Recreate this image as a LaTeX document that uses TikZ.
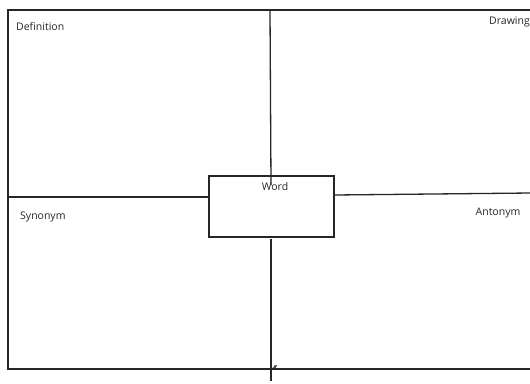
\documentclass[tikz,border=0pt]{standalone}
\usepackage{fontspec}
\setmainfont{Open Sans}
\usetikzlibrary{arrows.meta}
\begin{document}
\begin{tikzpicture}[x=1pt,y=-1pt,
  ln/.style={draw=black!85,line width=1.3pt},
  lbl/.style={inner sep=0pt,font=\fontsize{10.5}{12}\selectfont,text=black!85}]
\useasboundingbox (0,0) rectangle (530,383);
\fill[white] (0,0) rectangle (530,383);
\coordinate (tl) at (8,10);
\coordinate (tr) at (531,10);
\coordinate (bl) at (8,369);
\coordinate (br) at (531,369);
\draw[ln] (tr) -- (tl) -- (bl) -- (br);
\node[ln,line width=1.5pt,minimum width=125pt,minimum height=61pt,inner sep=0pt,anchor=north west] (word) at (208,175) {};
\coordinate (vt) at (270,10);
\coordinate (vte) at (271,185);
\coordinate (vb) at (271,381);
\coordinate (hl) at (8,197);
\coordinate (hr) at (531,193);
\draw[ln] (vt) -- (vte);
\draw[ln] (word.south -| vb) ++(0,1) -- (vb);
\draw[ln] (hl) -- (hl -| word.west);
\draw[ln] (word.east |- 0,195) -- (hr);
\coordinate (a1) at (272,369);
\coordinate (a2) at (277,365);
\draw[ln,line width=0.8pt,-{Latex[length=3pt,width=3pt]}] (a1) -- (a2);
\node[lbl] (wl) at (275,187) {Word};
\node[lbl,anchor=west] (def) at (16,27) {Definition};
\node[lbl,anchor=west] (drw) at (489,22) {Drawing};
\node[lbl,anchor=west] (syn) at (20,217) {Synonym};
\node[lbl] (ant) at (498,213) {Antonym};
\end{tikzpicture}
\end{document}
